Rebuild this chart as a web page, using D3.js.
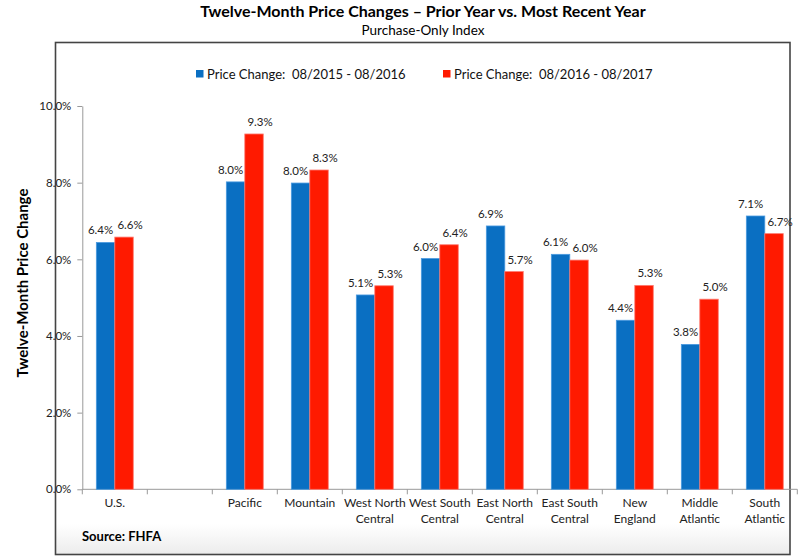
<!DOCTYPE html>
<html>
<head>
<meta charset="utf-8">
<script src="https://cdn.jsdelivr.net/npm/d3@7"></script>
<style>
  body { margin: 0; background: #fff; }
  svg { display: block; font-family: Lato, "Open Sans", sans-serif; }
</style>
</head>
<body>
<script>
// data
var categories = ["U.S.", "", "Pacific", "Mountain", "West North Central", "West South Central",
                  "East North Central", "East South Central", "New England", "Middle Atlantic", "South Atlantic"];
var prior  = [6.44, null, 8.02, 7.99, 5.07, 6.02, 6.87, 6.13, 4.41, 3.78, 7.13];
var recent = [6.58, null, 9.27, 8.33, 5.31, 6.38, 5.68, 5.98, 5.32, 4.96, 6.67];
var seriesNames = ["Price Change:  08/2015 - 08/2016", "Price Change:  08/2016 - 08/2017"];
var yTicks = [0, 2, 4, 6, 8, 10];

var width = 799,
    height = 556,
    colors = ["#0a6fc2", "#ff1a00"],
    strokes = ["#4a9ae0", "#ff7a70"];

var svg = d3.select("body").append("svg")
    .attr("width", width)
    .attr("height", height);

// faint shading at the bottom of the frame
var grad = svg.append("defs").append("linearGradient")
    .attr("id", "fade").attr("x1", 0).attr("y1", 0).attr("x2", 0).attr("y2", 1);
grad.append("stop").attr("offset", "0%").attr("stop-color", "#fff");
grad.append("stop").attr("offset", "100%").attr("stop-color", "#ececec");
svg.append("rect")
    .attr("x", 55).attr("y", 524).attr("width", 735).attr("height", 30)
    .attr("fill", "url(#fade)");

// frame
svg.append("rect")
    .attr("x", 55.5).attr("y", 42.5).attr("width", 734.5).attr("height", 512)
    .attr("fill", "none")
    .attr("stroke", "#444")
    .attr("stroke-width", 1.6);

// titles
svg.append("text")
    .attr("x", 423).attr("y", 17)
    .attr("text-anchor", "middle")
    .style("font-size", "16px").style("font-weight", "bold")
    .text("Twelve-Month Price Changes \u2013 Prior Year vs. Most Recent Year");
svg.append("text")
    .attr("x", 423).attr("y", 35)
    .attr("text-anchor", "middle")
    .style("font-size", "13.5px")
    .text("Purchase-Only Index");

var x = d3.scaleBand()
    .domain(d3.range(categories.length))
    .range([82.3, 797.3])
    .paddingInner(0)
    .paddingOuter(0);

var x1 = d3.scaleBand()
    .domain([0, 1])
    .range([0, x.bandwidth()])
    .paddingInner(0)
    .paddingOuter(0.76);

var y = d3.scaleLinear()
    .domain([0, 10])
    .range([489.3, 106]);

// y axis
var yAxis = svg.append("g")
    .attr("transform", "translate(82.3,0)")
    .call(d3.axisLeft(y).tickValues(yTicks).tickSize(5).tickSizeOuter(0)
        .tickFormat(function(d) { return d.toFixed(1) + "%"; }));
yAxis.select(".domain").attr("stroke", "#999");
yAxis.selectAll(".tick line").attr("stroke", "#999");
yAxis.selectAll(".tick text")
    .attr("x", -11)
    .style("font-size", "11.5px")
    .style("font-family", "Lato, sans-serif")
    .attr("fill", "#222");

// x axis with ticks at slot boundaries
var xAxis = svg.append("g")
    .attr("transform", "translate(0,489.3)");
xAxis.append("line")
    .attr("x1", x.range()[0]).attr("x2", x.range()[1])
    .attr("stroke", "#999");
xAxis.selectAll(".bound")
    .data(d3.range(categories.length + 1))
    .enter().append("line")
    .attr("x1", function(i) { return x.range()[0] + i * x.step(); })
    .attr("x2", function(i) { return x.range()[0] + i * x.step(); })
    .attr("y1", 0).attr("y2", 5)
    .attr("stroke", "#999");

var catLabels = xAxis.selectAll(".cat")
    .data(categories)
    .enter().append("text")
    .attr("class", "cat")
    .attr("text-anchor", "middle")
    .style("font-size", "12px")
    .attr("fill", "#222")
    .attr("x", function(d, i) { return x(i) + x.bandwidth() / 2; });
catLabels.each(function(d) {
    var words = d.split(" "),
        lines = words.length > 1 ? [words.slice(0, -1).join(" "), words[words.length - 1]] : [d];
    d3.select(this).selectAll("tspan")
        .data(lines)
        .enter().append("tspan")
        .attr("x", d3.select(this).attr("x"))
        .attr("y", function(l, j) { return 18 + j * 16; })
        .text(function(l) { return l; });
});

// bars
var series = [prior, recent];
var groups = svg.selectAll(".grp")
    .data(categories)
    .enter().append("g")
    .attr("class", "grp")
    .attr("transform", function(d, i) { return "translate(" + x(i) + ",0)"; });

groups.each(function(d, i) {
    var g = d3.select(this);
    [0, 1].forEach(function(s) {
        var v = series[s][i];
        if (v == null) return;
        g.append("rect")
            .attr("x", x1(s))
            .attr("y", y(v))
            .attr("width", x1.bandwidth())
            .attr("height", y(0) - y(v))
            .attr("fill", colors[s])
            .attr("stroke", strokes[s])
            .attr("stroke-width", 0.8);
        g.append("text")
            .attr("x", x1(s) + x1.bandwidth() / 2 + (s === 0 ? -5 : 6))
            .attr("y", y(v) - 8)
            .attr("text-anchor", "middle")
            .style("font-size", "11.5px")
            .attr("fill", "#222")
            .text(v.toFixed(1) + "%");
    });
});

// legend
var legendX = [196, 443];
var legend = svg.selectAll(".leg")
    .data(seriesNames)
    .enter().append("g")
    .attr("class", "leg")
    .attr("transform", function(d, i) { return "translate(" + legendX[i] + ",74)"; });
legend.append("rect")
    .attr("x", 0).attr("y", -4)
    .attr("width", 7.5).attr("height", 7.5)
    .attr("fill", function(d, i) { return colors[i]; });
legend.append("text")
    .attr("x", 11).attr("y", 4.5)
    .style("font-size", "13px")
    .style("white-space", "pre")
    .attr("fill", "#111")
    .text(function(d) { return d; });

// y axis title
svg.append("text")
    .attr("transform", "translate(28,283) rotate(-90)")
    .attr("text-anchor", "middle")
    .style("font-size", "15px").style("font-weight", "bold")
    .text("Twelve-Month Price Change");

// source note
svg.append("text")
    .attr("x", 82).attr("y", 541)
    .style("font-size", "13px").style("font-weight", "bold")
    .text("Source: FHFA");
</script>
</body>
</html>
